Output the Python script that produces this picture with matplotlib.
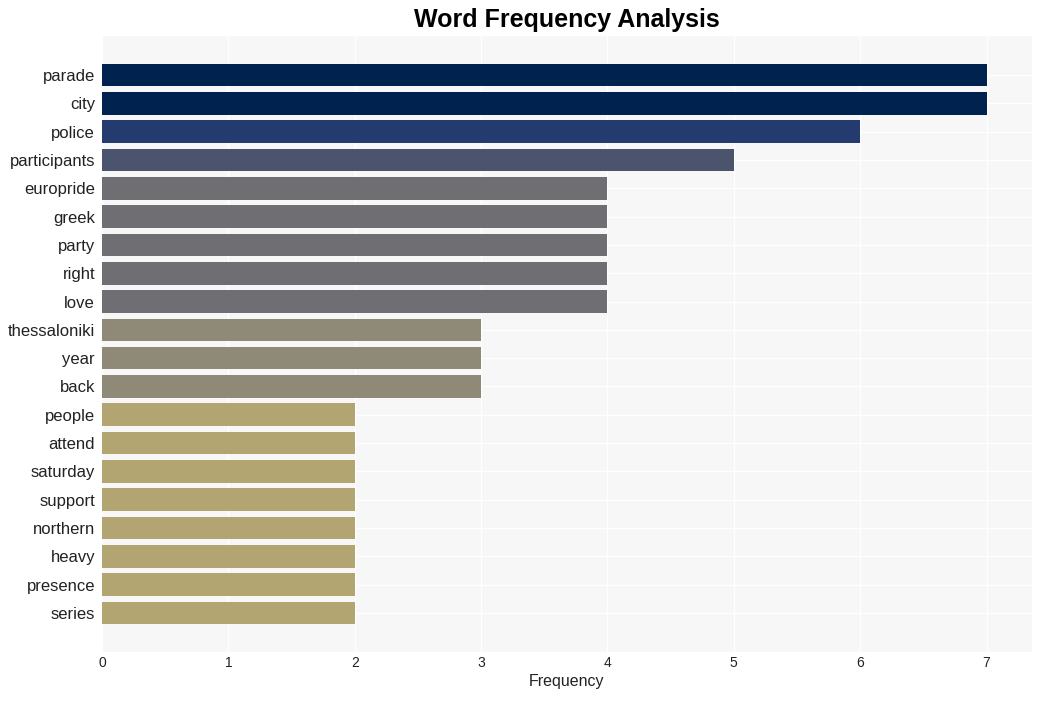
import matplotlib.pyplot as plt
import numpy as np

plt.rcParams["font.family"] = ["Liberation Sans", "DejaVu Sans"]

words = ["parade", "city", "police", "participants", "europride", "greek", "party",
         "right", "love", "thessaloniki", "year", "back", "people", "attend",
         "saturday", "support", "northern", "heavy", "presence", "series"]
counts = [7, 7, 6, 5, 4, 4, 4, 4, 4, 3, 3, 3, 2, 2, 2, 2, 2, 2, 2, 2]

# colour per frequency level
level_colors = {7: "#00224e", 6: "#233b6e", 5: "#4b546c", 4: "#6f6f73",
                3: "#8f8a78", 2: "#b2a572"}
colors = [level_colors[c] for c in counts]

fig = plt.figure(figsize=(10.41, 7.01), dpi=100)
ax = fig.add_axes([102 / 1041, 1 - 652 / 701, 930 / 1041, 616 / 701])
ax.set_facecolor("#f7f7f7")

y = np.arange(len(words))
ax.barh(y, counts, height=0.8, color=colors, zorder=3)

ax.set_yticks(y)
ax.set_yticklabels(words, fontsize=12, color="#222222")
ax.set_ylim(len(words) - 1 + 1.38, -1.38)
ax.set_xlim(0, 7.36)
ax.set_xticks(range(8))
ax.tick_params(axis="x", labelsize=10, colors="#222222", length=0, pad=3)
ax.tick_params(axis="y", length=0, pad=5)
ax.grid(True, color="white", linewidth=1, zorder=0)
for s in ax.spines.values():
    s.set_visible(False)

ax.set_xlabel("Frequency", fontsize=11.5, color="#222222", labelpad=3)
fig.text(0.545, 0.971, "Word Frequency Analysis", ha="center", va="center",
         fontsize=18, fontweight="bold")

plt.savefig("out.png", dpi=100)
